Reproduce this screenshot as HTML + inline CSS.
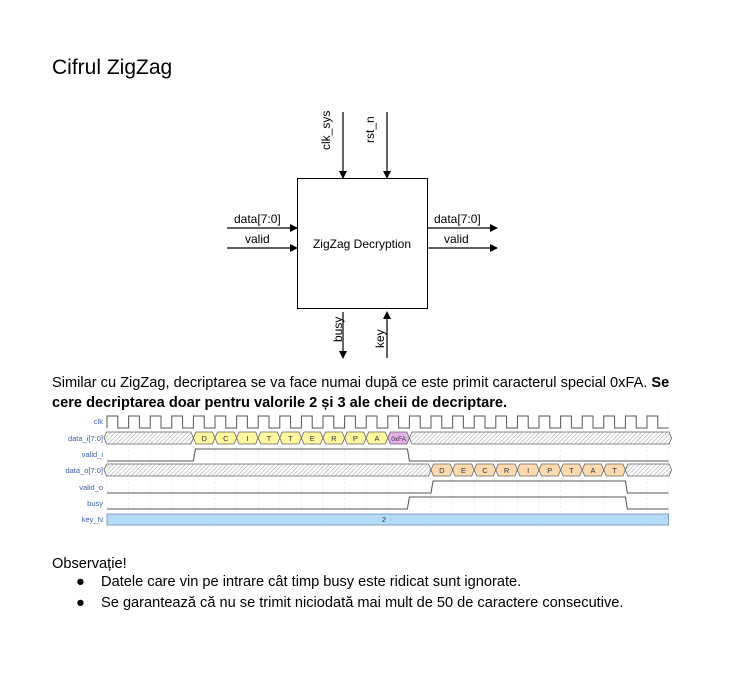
<!DOCTYPE html>
<html><head><meta charset="utf-8"><style>
body{margin:0;background:#fff;width:741px;height:679px;overflow:hidden;font-family:"Liberation Sans",sans-serif;position:relative}
.t{position:absolute;white-space:nowrap;color:#000}
</style></head><body>
<div class="t" style="left:52px;top:56px;font-size:21px">Cifrul ZigZag</div>
<div class="t" style="left:52px;top:373px;font-size:14.6px;line-height:20px">Similar cu ZigZag, decriptarea se va face numai după ce este primit caracterul special 0xFA. <b>Se</b><br><b>cere decriptarea doar pentru valorile 2 și 3 ale cheii de decriptare.</b></div>
<div class="t" style="left:52px;top:556px;font-size:14.6px">Observație!</div>
<div class="t" style="left:76px;top:574px;font-size:14.6px">●&nbsp;&nbsp;&nbsp;&nbsp;Datele care vin pe intrare cât timp busy este ridicat sunt ignorate.</div>
<div class="t" style="left:76px;top:595px;font-size:14.6px">●&nbsp;&nbsp;&nbsp;&nbsp;Se garantează că nu se trimit niciodată mai mult de 50 de caractere consecutive.</div>
<svg width="741" height="679" style="position:absolute;left:0;top:0" font-family="Liberation Sans, sans-serif">
<defs><marker id="a" markerWidth="8" markerHeight="8" refX="7" refY="4" orient="auto" markerUnits="userSpaceOnUse"><path d="M0,0L8,4L0,8z" fill="#000"/></marker>
<pattern id="h" width="3" height="3" patternUnits="userSpaceOnUse" patternTransform="rotate(45)"><rect width="3" height="3" fill="#fff"/><line x1="0" y1="0" x2="0" y2="3" stroke="#aaa" stroke-width="1.2"/></pattern></defs>
<rect x="297.5" y="178.5" width="130" height="130" fill="#fff" stroke="#000"/>
<text x="362" y="248" font-size="12" text-anchor="middle">ZigZag Decryption</text>
<g stroke="#000" stroke-width="1.2" marker-end="url(#a)">
<line x1="343" y1="112" x2="343" y2="178"/><line x1="387" y1="112" x2="387" y2="178"/>
<line x1="227" y1="228" x2="297" y2="228"/><line x1="227" y1="248" x2="297" y2="248"/>
<line x1="427" y1="228" x2="497" y2="228"/><line x1="427" y1="248" x2="497" y2="248"/>
<line x1="343" y1="312" x2="343" y2="358"/><line x1="387" y1="358" x2="387" y2="312"/>
</g>
<g font-size="12">
<text x="234" y="223">data[7:0]</text><text x="245" y="243">valid</text>
<text x="434" y="223">data[7:0]</text><text x="444" y="243">valid</text>
<text transform="translate(330,150) rotate(-90)">clk_sys</text>
<text transform="translate(374,143) rotate(-90)">rst_n</text>
<text transform="translate(342,342) rotate(-90)">busy</text>
<text transform="translate(384,348) rotate(-90)">key</text>
</g>
<g id="w"></g>
<g font-size="7.5" fill="#3a5db0" text-anchor="end">
<text x="103" y="424">clk</text><text x="103" y="441">data_i[7:0]</text><text x="103" y="457">valid_i</text>
<text x="103" y="473">data_o[7:0]</text><text x="103" y="490">valid_o</text><text x="103" y="506">busy</text><text x="103" y="522">key_N</text>
</g>
<g id="lb" font-size="7.5" text-anchor="middle" fill="#333">
<text x="204.2" y="441">D</text><text x="225.8" y="441">C</text><text x="247.4" y="441">I</text><text x="269" y="441">T</text><text x="290.6" y="441">T</text><text x="312.2" y="441">E</text><text x="333.8" y="441">R</text><text x="355.4" y="441">P</text><text x="377" y="441">A</text><text x="398.6" y="441" font-size="6.5">0xFA</text>
<text x="441.8" y="473">D</text><text x="463.4" y="473">E</text><text x="485" y="473">C</text><text x="506.6" y="473">R</text><text x="528.2" y="473">I</text><text x="549.8" y="473">P</text><text x="571.4" y="473">T</text><text x="593" y="473">A</text><text x="614.6" y="473">T</text>
<text x="384" y="522">2</text>
</g>
</svg>
<script>
var p=21.6,x0=107,g=document.getElementById('w'),s='';
var X=function(c){return x0+c*p};
for(var c=0;c<=26;c++)s+='<line x1="'+X(c)+'" y1="414" x2="'+X(c)+'" y2="527" stroke="#eee" stroke-dasharray="2,2"/>';
var d='M'+x0+',428';for(c=0;c<26;c++){d+='L'+X(c)+',416L'+(X(c)+p/2)+',416L'+(X(c)+p/2)+',428L'+X(c+1)+',428';}
s+='<path d="'+d+'" fill="none" stroke="#555"/>';
function bus(y,a,b,fill){var t=2.5;return '<path d="M'+a+','+(y+6)+'L'+(a+t)+','+y+'L'+(b-t)+','+y+'L'+b+','+(y+6)+'L'+(b-t)+','+(y+12)+'L'+(a+t)+','+(y+12)+'z" fill="'+fill+'" stroke="#666" stroke-width="0.8"/>';}
s+=bus(432,X(0)-3,X(4),'url(#h)');
for(c=4;c<13;c++)s+=bus(432,X(c),X(c+1),'#fff6a0');
s+=bus(432,X(13),X(14),'#e3b0e8');s+=bus(432,X(14),X(26)+3,'url(#h)');
s+=bus(464,X(0)-3,X(15),'url(#h)');
for(c=15;c<24;c++)s+=bus(464,X(c),X(c+1),'#fdd9b0');
s+=bus(464,X(24),X(26)+3,'url(#h)');
function sig(y,a,b){return '<path d="M'+x0+','+(y+12)+'L'+a+','+(y+12)+'L'+(a+2)+','+y+'L'+b+','+y+'L'+(b+2)+','+(y+12)+'L'+X(26)+','+(y+12)+'" fill="none" stroke="#555"/>';}
s+=sig(449,X(4),X(14)-2);s+=sig(481,X(15),X(24));s+=sig(497,X(14)-2,X(24));
s+='<rect x="'+x0+'" y="514" width="'+(26*p)+'" height="11" fill="#b5dcf7" stroke="#6a8fb5" stroke-width="0.8"/>';
g.innerHTML=s;
</script>
</body></html>
